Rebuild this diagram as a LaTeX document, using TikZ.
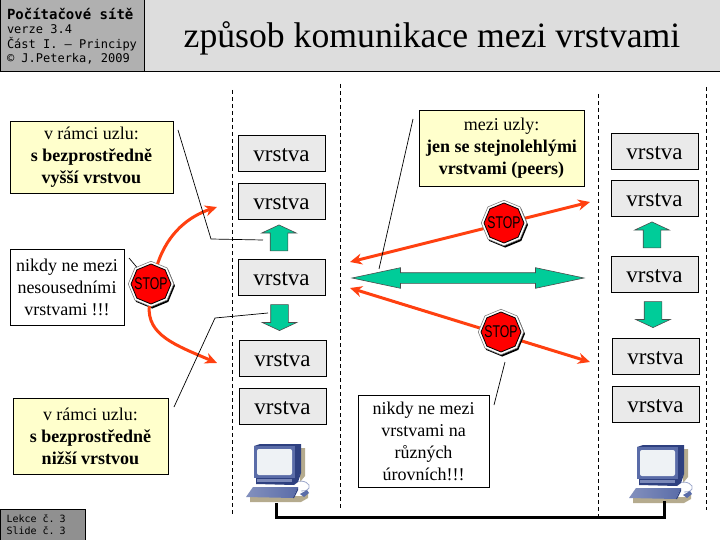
\documentclass[tikz,border=0pt]{standalone}
\usepackage{fontspec}
\setmainfont{Liberation Serif}
\setmonofont{DejaVu Sans Mono}
\newfontfamily\stopfont[FakeStretch=.72]{Liberation Sans}
\usetikzlibrary{positioning,arrows.meta,calc,shapes.geometric,shapes.arrows,shadows}
\newcommand{\hdrfont}[2]{\ttfamily\fontsize{#1}{#2}\selectfont\spaceskip=.6em\relax}
\definecolor{hdrgray}{HTML}{B0B0B0}
\definecolor{titlegray}{HTML}{DDDDDD}
\definecolor{footgray}{HTML}{909090}
\definecolor{layergray}{HTML}{EAEAEA}
\definecolor{noteyellow}{HTML}{FFFFCC}
\definecolor{arrowgreen}{HTML}{00CC99}
\definecolor{arrowred}{HTML}{FF4010}
\definecolor{pcblue}{HTML}{5A6CA8}
\definecolor{pcdark}{HTML}{2E4080}
\definecolor{pcshadow}{HTML}{B5AB8E}
\definecolor{pcscreen}{HTML}{EEF2F5}
\tikzset{
  computer/.pic={
    \fill[pcshadow] (47,2) -- (51,2) -- (51,30) -- (46,36) -- cycle;
    \fill[pcshadow] (-4,50) -- (2,50) -- (44,50) -- (48,50) -- (54,47) -- (54,52) -- (47,56) -- (-4,56) -- cycle;
    \draw[pcblue!60,line width=.8pt] (41,36) .. controls (50,33) and (57,38) .. (55,42) .. controls (53,45) and (50,45) .. (47,45);
    \fill[pcdark] (0,0) -- (6,-2) -- (47,-2) -- (47,27) -- (41,33) -- (41,0) -- cycle;
    \fill[pcblue] (0,0) rectangle (41,32);
    \fill[pcdark] (2,32) -- (41,32) -- (47,27) -- (44,36) -- (40,39) -- (2,38) -- cycle;
    \fill[pcblue!80] (3,33) rectangle (38,36);
    \shade[left color=pcblue!75,right color=pcblue] (-8,51) -- (-1,41) -- (44,41) -- (39,52) -- cycle;
    \fill[pcdark] (39,52) -- (44,41) -- (44,44) -- (40,52) -- cycle;
    \fill[pcblue] (46,48) -- (53,44) -- (55,47) -- (50,51) -- cycle;
    \fill[pcscreen,rounded corners=2pt] (3,3) rectangle (38,29);
  },
}
\begin{document}
\begin{tikzpicture}[x=1pt,y=-1pt,>={Stealth[length=12pt,width=11pt]},node distance=12pt and 12pt,
  hdrbox/.style={draw=black,line width=1pt,minimum width=#1,inner sep=0pt,outer sep=0pt},
  layerbox/.style={draw=black,line width=1pt,fill=layergray,minimum width=87pt,text height=26pt,text depth=10pt,inner sep=0pt,outer sep=0pt,font=\fontsize{23}{25}\selectfont},
  notebox/.style={draw=black,line width=.8pt,fill=noteyellow,align=center,inner sep=0pt,font=\fontsize{18}{22}\selectfont},
  warnbox/.style={draw=black,line width=.8pt,fill=white,align=center,inner sep=0pt,font=\fontsize{18}{22}\selectfont},
  sepline/.style={line width=.8pt,dash pattern=on 4pt off 3pt},
  leader/.style={draw=black,line width=.7pt},
  redline/.style={arrowred,line width=3pt},
  greenup/.style={shape=single arrow,draw=black!70,line width=.6pt,fill=arrowgreen,shape border rotate=90,minimum height=26pt,inner sep=8.5pt,single arrow head extend=8.5pt,single arrow tip angle=130,outer sep=0pt},
  greendown/.style={greenup,shape border rotate=270},
  greenboth/.style={shape=double arrow,draw=black!70,line width=.6pt,fill=arrowgreen,minimum height=232pt,inner xsep=0pt,inner ysep=5pt,double arrow head extend=5pt,double arrow tip angle=24,outer sep=0pt},
  stopring/.style={shape=regular polygon,regular polygon sides=8,shape border rotate=22.5,draw=black!50,line width=.6pt,fill=white,minimum size=45.5pt,inner sep=0pt,outer sep=0pt,drop shadow={shadow xshift=1.2pt,shadow yshift=-1.8pt,opacity=1,fill=black}},
  stopsign/.style={shape=regular polygon,regular polygon sides=8,shape border rotate=22.5,draw=black,line width=.8pt,fill=red,minimum size=40pt,inner sep=0pt},
  stoptext/.style={inner sep=0pt,font=\stopfont\fontsize{17}{18}\selectfont},
  link/.style={draw=black,line width=3pt},
]
\useasboundingbox (0,0) rectangle (720,540);
\node[hdrbox=144pt,minimum height=72pt,fill=hdrgray,align=left,text width=130pt,font=\hdrfont{12}{14.5}] (hdr) at (72,36) {\bfseries\hdrfont{14}{14.5}Počítačové sítě\\\mdseries\hdrfont{12}{14.5}verze 3.4\\Část I. – Principy\\© J.Peterka, 2009};
\node[hdrbox=576pt,fill=titlegray,text height=48pt,text depth=24pt,font=\fontsize{35.7}{40}\selectfont] (title) at (432,36) {způsob komunikace mezi vrstvami};
\node[hdrbox=85pt,minimum height=31pt,fill=footgray,align=left,text width=72pt,font=\hdrfont{10}{12}] (foot) at (42.5,524.5) {\hdrfont{10}{12}Lekce č. 3\\Slide č. 3};

\coordinate (sepAtop) at (232,90); \coordinate (sepAend) at (232,515);
\coordinate (sepBtop) at (340,84); \coordinate (sepBend) at (340,509);
\coordinate (sepCtop) at (598,94); \coordinate (sepCend) at (598,516);
\coordinate (sepDtop) at (706,87); \coordinate (sepDend) at (706,510);
\draw[sepline] (sepAtop) -- (sepAend);
\draw[sepline] (sepBtop) -- (sepBend);
\draw[sepline] (sepCtop) -- (sepCend);
\draw[sepline] (sepDtop) -- (sepDend);

\node[layerbox] (layA1) at (281.5,154) {vrstva};
\node[layerbox,below=of layA1] (layA2) {vrstva};
\node[layerbox] (layA3) at (281.5,277) {vrstva};
\node[layerbox] (layA4) at (282.5,358) {vrstva};
\node[layerbox,below=of layA4] (layA5) {vrstva};
\node[layerbox] (layB1) at (654.5,152) {vrstva};
\node[layerbox,below=11pt of layB1] (layB2) {vrstva};
\node[layerbox] (layB3) at (654.5,274) {vrstva};
\node[layerbox] (layB4) at (655.5,356) {vrstva};
\node[layerbox,below=of layB4] (layB5) {vrstva};

\node[greenup] (upA) at (279,240) {};
\node[greendown] (downA) at (279.5,315.5) {};
\node[greenup] (upB) at (652,237) {};
\node[greendown] (downB) at (653,312.5) {};
\node[greenboth] (peer) at (468,278) {};

\node[notebox,minimum width=163pt,minimum height=72pt] (noteUp) at (91.5,157) {v rámci uzlu:\\\textbf{s bezprostředně}\\\textbf{vyšší vrstvou}};
\node[notebox,minimum width=155pt,minimum height=76pt] (noteDown) at (90.5,436) {v rámci uzlu:\\\textbf{s bezprostředně}\\\textbf{nižší vrstvou}};
\node[notebox,minimum width=165pt,minimum height=76pt] (notePeer) at (501.5,148) {mezi uzly:\\\textbf{jen se stejnolehlými}\\\textbf{vrstvami (peers)}};
\node[warnbox,minimum width=114pt,minimum height=76pt] (warnA) at (67,287) {nikdy ne mezi\\nesousedními\\vrstvami !!!};
\node[warnbox,minimum width=131pt,minimum height=92pt] (warnB) at (423.5,441.5) {nikdy ne mezi\\vrstvami na\\různých\\úrovních!!!};

\coordinate (redUp) at (217,207);
\coordinate (redDown) at (217,363);
\coordinate (redLa) at (350,262);
\coordinate (redRa) at (590,202);
\coordinate (redLb) at (350,288);
\coordinate (redRb) at (590,362);
\draw[redline,<->] (redLa) -- (redRa);
\draw[redline,<->] (redLb) -- (redRb);

\node[stopring] (stopA) at (151,284) {};
\node[stopsign] (stopAin) at (stopA) {};
\node[stoptext] (stopAtx) at (stopA) {STOP};
\node[stopring] (stopB) at (504,223) {};
\node[stopsign] (stopBin) at (stopB) {};
\node[stoptext] (stopBtx) at (stopB) {STOP};
\node[stopring] (stopC) at (501,332) {};
\node[stopsign] (stopCin) at (stopC) {};
\node[stoptext] (stopCtx) at (stopC) {STOP};
\draw[redline,->] (stopA) .. controls (168,232) and (190,216) .. (redUp);
\draw[redline,->] (stopA) .. controls (147,335) and (175,345) .. (redDown);

\coordinate (leadUpA) at (178,130);
\coordinate (leadUpB) at (211,239);
\coordinate (leadUpC) at (263,240);
\coordinate (leadDownA) at (174,407);
\coordinate (leadDownB) at (215,318);
\coordinate (leadDownC) at (268,313);
\coordinate (leadStop) at (129,258);
\coordinate (leadPeerA) at (413,119);
\coordinate (leadPeerB) at (379,269);
\coordinate (leadWarnA) at (505,362);
\coordinate (leadWarnB) at (494,405);
\draw[leader] (leadUpA) -- (leadUpB) -- (leadUpC);
\draw[leader] (leadDownA) -- (leadDownB) -- (leadDownC);
\draw[leader] (leadStop) -- (stopA);
\draw[leader] (leadPeerA) -- (leadPeerB);
\draw[leader] (leadWarnA) -- (leadWarnB);

\pic (pcA) at (254,446) {computer};
\pic (pcB) at (637,447) {computer};
\coordinate (portA) at (276,503);
\coordinate (portB) at (664.5,501);
\draw[link] (portA) |- ($(portA)!.5!(portB)+(0,15)$) -| (portB);
\end{tikzpicture}
\end{document}
